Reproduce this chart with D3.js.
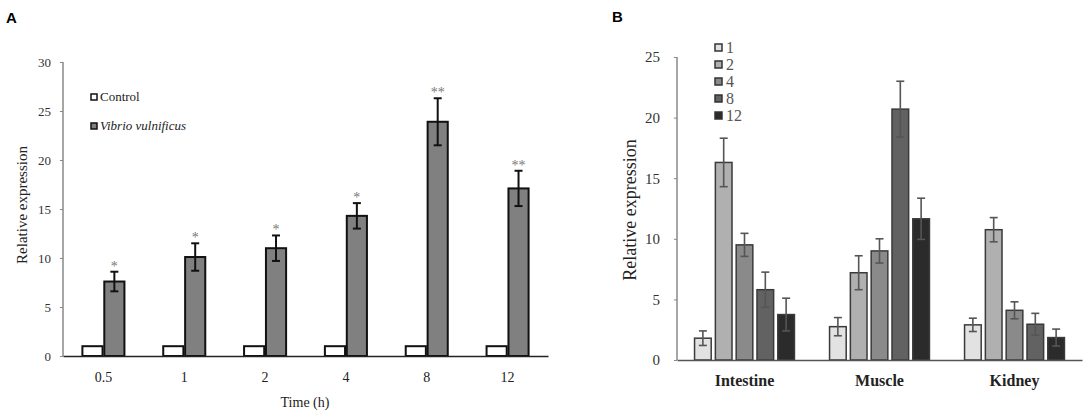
<!DOCTYPE html>
<html>
<head>
<meta charset="utf-8">
<style>
  body { margin: 0; background: #fff; }
  svg text { font-family: "Liberation Serif", "Times New Roman", serif; }
  svg text.panel { font-family: "Liberation Sans", Arial, sans-serif; font-weight: bold; font-size: 15px; }
</style>
</head>
<body>
<svg id="chart" width="1084" height="411"></svg>
<script src="https://d3js.org/d3.v7.min.js"></script>
<script>
  // ---- panel A data ----
  var timesA = ['0.5', '1', '2', '4', '8', '12'];
  var seriesA = ['Control', 'Vibrio vulnificus'];
  var controlA = [1, 1, 1, 1, 1, 1];
  var vibrioA = [7.6, 10.1, 11.0, 14.3, 23.9, 17.1];
  var vibrioErrA = [1.0, 1.4, 1.3, 1.3, 2.4, 1.8];
  var starsA = ['*', '*', '*', '*', '**', '**'];
  var ticksA = [0, 5, 10, 15, 20, 25, 30];

  // ---- panel B data ----
  var tissuesB = ['Intestine', 'Muscle', 'Kidney'];
  var hoursB = ['1', '2', '4', '8', '12'];
  var intestineB = [1.8, 16.3, 9.5, 5.8, 3.75];
  var intestineErrB = [0.6, 2.0, 0.95, 1.45, 1.35];
  var muscleB = [2.75, 7.2, 9.0, 20.7, 11.65];
  var muscleErrB = [0.75, 1.4, 1.0, 2.3, 1.7];
  var kidneyB = [2.9, 10.75, 4.1, 2.95, 1.85];
  var kidneyErrB = [0.55, 1.0, 0.7, 0.9, 0.7];
  var ticksB = [0, 5, 10, 15, 20, 25];

  var serif = '"Liberation Serif", "Times New Roman", serif';
  var svg = d3.select('#chart');

  // =============== Panel A ===============
  svg.append('text').attr('class', 'panel').attr('x', 6).attr('y', 23).text('A');

  var xA = d3.scaleBand().domain(timesA).range([63, 548]).paddingInner(0.48).paddingOuter(0.24);
  var x1A = d3.scaleBand().domain(seriesA).range([0, xA.bandwidth()]).paddingInner(0.08);
  var yA = d3.scaleLinear().domain([0, 30]).range([356, 62]);

  var gA = svg.append('g');
  var fillsA = { 'Control': '#ffffff', 'Vibrio vulnificus': '#808080' };

  var rowsA = timesA.map(function(t, i) {
    return { t: t, vals: [
      { s: 'Control', v: controlA[i], e: 0 },
      { s: 'Vibrio vulnificus', v: vibrioA[i], e: vibrioErrA[i], star: starsA[i] }
    ] };
  });

  var grpA = gA.selectAll('g.grp').data(rowsA).enter().append('g')
    .attr('transform', function(d) { return 'translate(' + xA(d.t) + ',0)'; });

  grpA.selectAll('rect').data(function(d) { return d.vals; }).enter().append('rect')
    .attr('x', function(d) { return x1A(d.s); })
    .attr('y', function(d) { return yA(d.v); })
    .attr('width', x1A.bandwidth())
    .attr('height', function(d) { return yA(0) - yA(d.v); })
    .attr('fill', function(d) { return fillsA[d.s]; })
    .attr('stroke', '#111').attr('stroke-width', 2);

  var errA = grpA.selectAll('g.err').data(function(d) { return d.vals.filter(function(v) { return v.e > 0; }); })
    .enter().append('g').attr('stroke', '#111').attr('stroke-width', 2);
  errA.append('line')
    .attr('x1', function(d) { return x1A(d.s) + x1A.bandwidth() / 2; })
    .attr('x2', function(d) { return x1A(d.s) + x1A.bandwidth() / 2; })
    .attr('y1', function(d) { return yA(d.v + d.e); })
    .attr('y2', function(d) { return yA(d.v - d.e); });
  [1, -1].forEach(function(sg) {
    errA.append('line')
      .attr('x1', function(d) { return x1A(d.s) + x1A.bandwidth() / 2 - 4; })
      .attr('x2', function(d) { return x1A(d.s) + x1A.bandwidth() / 2 + 4; })
      .attr('y1', function(d) { return yA(d.v + sg * d.e); })
      .attr('y2', function(d) { return yA(d.v + sg * d.e); });
  });
  grpA.selectAll('text.star').data(function(d) { return d.vals.filter(function(v) { return v.star; }); })
    .enter().append('text')
    .attr('x', function(d) { return x1A(d.s) + x1A.bandwidth() / 2; })
    .attr('y', function(d) { return yA(d.v + d.e) - 1; })
    .attr('text-anchor', 'middle').attr('font-size', 14).attr('fill', '#777')
    .attr('font-family', serif)
    .text(function(d) { return d.star; });

  // axes A
  var yAxisA = gA.append('g').attr('transform', 'translate(63,0)')
    .call(d3.axisLeft(yA).tickValues(ticksA).tickSize(3).tickPadding(9))
    .attr('font-family', serif);
  yAxisA.select('.domain').attr('stroke', '#888').attr('stroke-width', 1.5).attr('d', 'M0,' + yA(30) + 'V' + yA(0));
  yAxisA.selectAll('.tick line').attr('stroke', '#888');
  yAxisA.selectAll('.tick text').attr('font-size', 13).attr('fill', '#333');

  var xAxisA = gA.append('g').attr('transform', 'translate(0,356)')
    .call(d3.axisBottom(xA).tickSize(0).tickPadding(16))
    .attr('font-family', serif);
  xAxisA.select('.domain').attr('stroke', '#222').attr('stroke-width', 1.5);
  xAxisA.selectAll('.tick text').attr('font-size', 14).attr('fill', '#222');

  gA.append('text').attr('x', 305).attr('y', 407).attr('text-anchor', 'middle')
    .attr('font-size', 14).attr('fill', '#222').attr('font-family', serif).text('Time (h)');
  gA.append('text').attr('transform', 'translate(27,205) rotate(-90)').attr('text-anchor', 'middle')
    .attr('font-size', 15).attr('fill', '#222').attr('font-family', serif).text('Relative expression');

  // legend A
  var legA = gA.selectAll('g.leg').data(seriesA).enter().append('g')
    .attr('transform', function(d, i) { return 'translate(91,' + (94 + i * 29) + ')'; });
  legA.append('rect').attr('width', 6).attr('height', 6)
    .attr('fill', function(d) { return fillsA[d]; }).attr('stroke', '#111').attr('stroke-width', 1.5);
  legA.append('text').attr('x', 9).attr('y', 7).attr('font-size', 13).attr('fill', '#222')
    .attr('font-family', serif)
    .attr('font-style', function(d, i) { return i === 1 ? 'italic' : 'normal'; })
    .text(function(d) { return d; });

  // =============== Panel B ===============
  svg.append('text').attr('class', 'panel').attr('x', 612).attr('y', 22).text('B');

  var xB = d3.scaleBand().domain(tissuesB).range([677, 1082]).paddingInner(0.26).paddingOuter(0.13);
  var x1B = d3.scaleBand().domain(hoursB).range([0, xB.bandwidth()]).paddingInner(0.2);
  var yB = d3.scaleLinear().domain([0, 25]).range([360, 57]);
  var fillsB = ['#e2e2e2', '#b0b0b0', '#8a8a8a', '#626262', '#2b2b2b'];

  var valsB = [intestineB, muscleB, kidneyB];
  var errsB = [intestineErrB, muscleErrB, kidneyErrB];
  var rowsB = tissuesB.map(function(t, i) {
    return { t: t, vals: hoursB.map(function(h, j) {
      return { h: h, v: valsB[i][j], e: errsB[i][j], c: fillsB[j] };
    }) };
  });

  var gB = svg.append('g');
  var grpB = gB.selectAll('g.grp').data(rowsB).enter().append('g')
    .attr('transform', function(d) { return 'translate(' + xB(d.t) + ',0)'; });

  grpB.selectAll('rect').data(function(d) { return d.vals; }).enter().append('rect')
    .attr('x', function(d) { return x1B(d.h); })
    .attr('y', function(d) { return yB(d.v); })
    .attr('width', x1B.bandwidth())
    .attr('height', function(d) { return yB(0) - yB(d.v); })
    .attr('fill', function(d) { return d.c; })
    .attr('stroke', '#3a3a3a').attr('stroke-width', 1.5);

  var errB = grpB.selectAll('g.err').data(function(d) { return d.vals; })
    .enter().append('g').attr('stroke', '#555').attr('stroke-width', 1.6);
  errB.append('line')
    .attr('x1', function(d) { return x1B(d.h) + x1B.bandwidth() / 2; })
    .attr('x2', function(d) { return x1B(d.h) + x1B.bandwidth() / 2; })
    .attr('y1', function(d) { return yB(d.v + d.e); })
    .attr('y2', function(d) { return yB(d.v - d.e); });
  [1, -1].forEach(function(sg) {
    errB.append('line')
      .attr('x1', function(d) { return x1B(d.h) + x1B.bandwidth() / 2 - 4; })
      .attr('x2', function(d) { return x1B(d.h) + x1B.bandwidth() / 2 + 4; })
      .attr('y1', function(d) { return yB(d.v + sg * d.e); })
      .attr('y2', function(d) { return yB(d.v + sg * d.e); });
  });

  // axes B
  var yAxisB = gB.append('g').attr('transform', 'translate(677,0)')
    .call(d3.axisLeft(yB).tickValues(ticksB).tickSize(3).tickPadding(14))
    .attr('font-family', serif);
  yAxisB.select('.domain').attr('stroke', '#888').attr('stroke-width', 1.5).attr('d', 'M0,' + yB(25) + 'V' + yB(0));
  yAxisB.selectAll('.tick line').attr('stroke', '#888');
  yAxisB.selectAll('.tick text').attr('font-size', 15).attr('fill', '#333');

  var xAxisB = gB.append('g').attr('transform', 'translate(0,360)')
    .call(d3.axisBottom(xB).tickSize(0).tickPadding(15))
    .attr('font-family', serif);
  xAxisB.select('.domain').attr('stroke', '#555').attr('stroke-width', 1.5);
  xAxisB.selectAll('.tick text').attr('font-size', 16).attr('font-weight', 'bold').attr('fill', '#222');

  gB.append('text').attr('transform', 'translate(636,210) rotate(-90)').attr('text-anchor', 'middle')
    .attr('font-size', 18).attr('fill', '#222').attr('font-family', serif).text('Relative expression');

  // legend B
  var legB = gB.selectAll('g.leg').data(hoursB).enter().append('g')
    .attr('transform', function(d, i) { return 'translate(715,' + (44 + i * 17) + ')'; });
  legB.append('rect').attr('width', 7).attr('height', 7)
    .attr('fill', function(d, i) { return fillsB[i]; }).attr('stroke', '#333').attr('stroke-width', 1.5);
  legB.append('text').attr('x', 11).attr('y', 9).attr('font-size', 16).attr('fill', '#555')
    .attr('font-family', serif)
    .text(function(d) { return d; });
</script>
</body>
</html>
